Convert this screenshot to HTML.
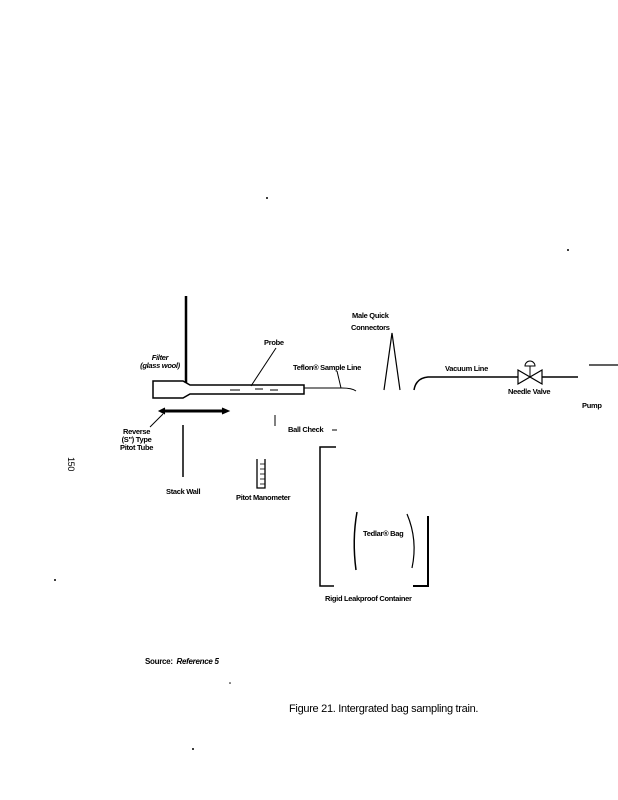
<!DOCTYPE html>
<html><head><style>
html,body{margin:0;padding:0;background:#fff;}
body{width:618px;height:800px;position:relative;overflow:hidden;font-family:"Liberation Sans",sans-serif;}
.t{position:absolute;font-size:7.5px;font-weight:bold;color:#000;white-space:nowrap;letter-spacing:-0.3px;}
</style></head><body>
<svg width="618" height="800" style="position:absolute;left:0;top:0" stroke="#000" fill="none">
<line x1="186" y1="296" x2="186" y2="383" stroke-width="2.5"/>
<path d="M153,381 H183 L190,385 H304 V394 H190 L183,398 H153 Z" stroke-width="1.5"/>
<line x1="230" y1="390" x2="240" y2="390"/><line x1="255" y1="389" x2="263" y2="389"/><line x1="270" y1="390" x2="278" y2="390"/>
<line x1="251" y1="386" x2="276" y2="348"/>
<path d="M304,388 H342 Q352,388 356,391" />
<line x1="341" y1="388" x2="337" y2="371"/>
<line x1="165" y1="411" x2="222" y2="411" stroke-width="3"/>
<path d="M222,408 L229,411 L222,414" fill="#000"/>
<path d="M165,408 L159,411 L165,414" fill="#000"/>
<line x1="163" y1="414" x2="150" y2="427"/>
<line x1="183" y1="425" x2="183" y2="477" stroke-width="1.5"/>
<line x1="275" y1="415" x2="275" y2="426"/>
<path d="M257,459 V488 H265 V459" stroke-width="1.3"/>
<g stroke-width="0.8"><line x1="260" y1="464" x2="265" y2="464"/><line x1="260" y1="469" x2="265" y2="469"/><line x1="260" y1="474" x2="265" y2="474"/><line x1="260" y1="479" x2="265" y2="479"/><line x1="260" y1="484" x2="265" y2="484"/></g>
<path d="M384,390 L392,333 L400,390" stroke-width="1.2"/>
<path d="M414,390 Q416,378 428,377 H518" stroke-width="1.5"/>
<path d="M518,370 L530,377 L518,384 Z M542,370 L530,377 L542,384 Z" stroke-width="1.2"/>
<line x1="530" y1="377" x2="530" y2="366"/>
<path d="M525,366 A5,5 0 0 1 535,366 Z" stroke-width="1"/>
<line x1="542" y1="377" x2="578" y2="377" stroke-width="1.5"/>
<line x1="589" y1="365" x2="618" y2="365" stroke-width="1.2"/>
<line x1="332" y1="430" x2="337" y2="430"/>
<path d="M336,447 H320 V586 H334" stroke-width="1.5"/>
<path d="M413,586 H428 V516" stroke-width="2"/>
<path d="M357,512 Q352,540 356,570" stroke-width="1.5"/>
<path d="M407,514 Q418,540 412,568" stroke-width="1.2"/>
<g fill="#000" stroke="none"><circle cx="267" cy="198" r="1"/><circle cx="568" cy="250" r="1"/><circle cx="55" cy="580" r="1"/><circle cx="193" cy="749" r="1"/><circle cx="230" cy="683" r="0.8"/></g>
</svg>
<div class="t" style="left:138px;top:354px;width:44px;line-height:8px;text-align:center;font-style:italic;">Filter<br>(glass wool)</div>
<div class="t" style="left:264px;top:338px;">Probe</div>
<div class="t" style="left:293px;top:363px;">Teflon® Sample Line</div>
<div class="t" style="left:351px;top:310px;line-height:12px;text-align:center;">Male Quick<br>Connectors</div>
<div class="t" style="left:445px;top:364px;">Vacuum Line</div>
<div class="t" style="left:508px;top:387px;">Needle Valve</div>
<div class="t" style="left:582px;top:401px;">Pump</div>
<div class="t" style="left:288px;top:425px;">Ball Check</div>
<div class="t" style="left:120px;top:428px;line-height:8px;text-align:center;">Reverse<br>(S") Type<br>Pitot Tube</div>
<div class="t" style="left:166px;top:487px;">Stack Wall</div>
<div class="t" style="left:236px;top:493px;">Pitot Manometer</div>
<div class="t" style="left:363px;top:529px;">Tedlar® Bag</div>
<div class="t" style="left:325px;top:594px;">Rigid Leakproof Container</div>
<div class="t" style="left:145px;top:657px;font-size:8px;">Source:&nbsp; <i>Reference 5</i></div>
<div class="t" style="left:289px;top:703px;font-size:11px;font-weight:normal;">Figure 21. Intergrated bag sampling train.</div>
<div class="t" style="left:64px;top:459px;font-size:9px;font-weight:normal;transform:rotate(90deg);">150</div>
</body></html>
